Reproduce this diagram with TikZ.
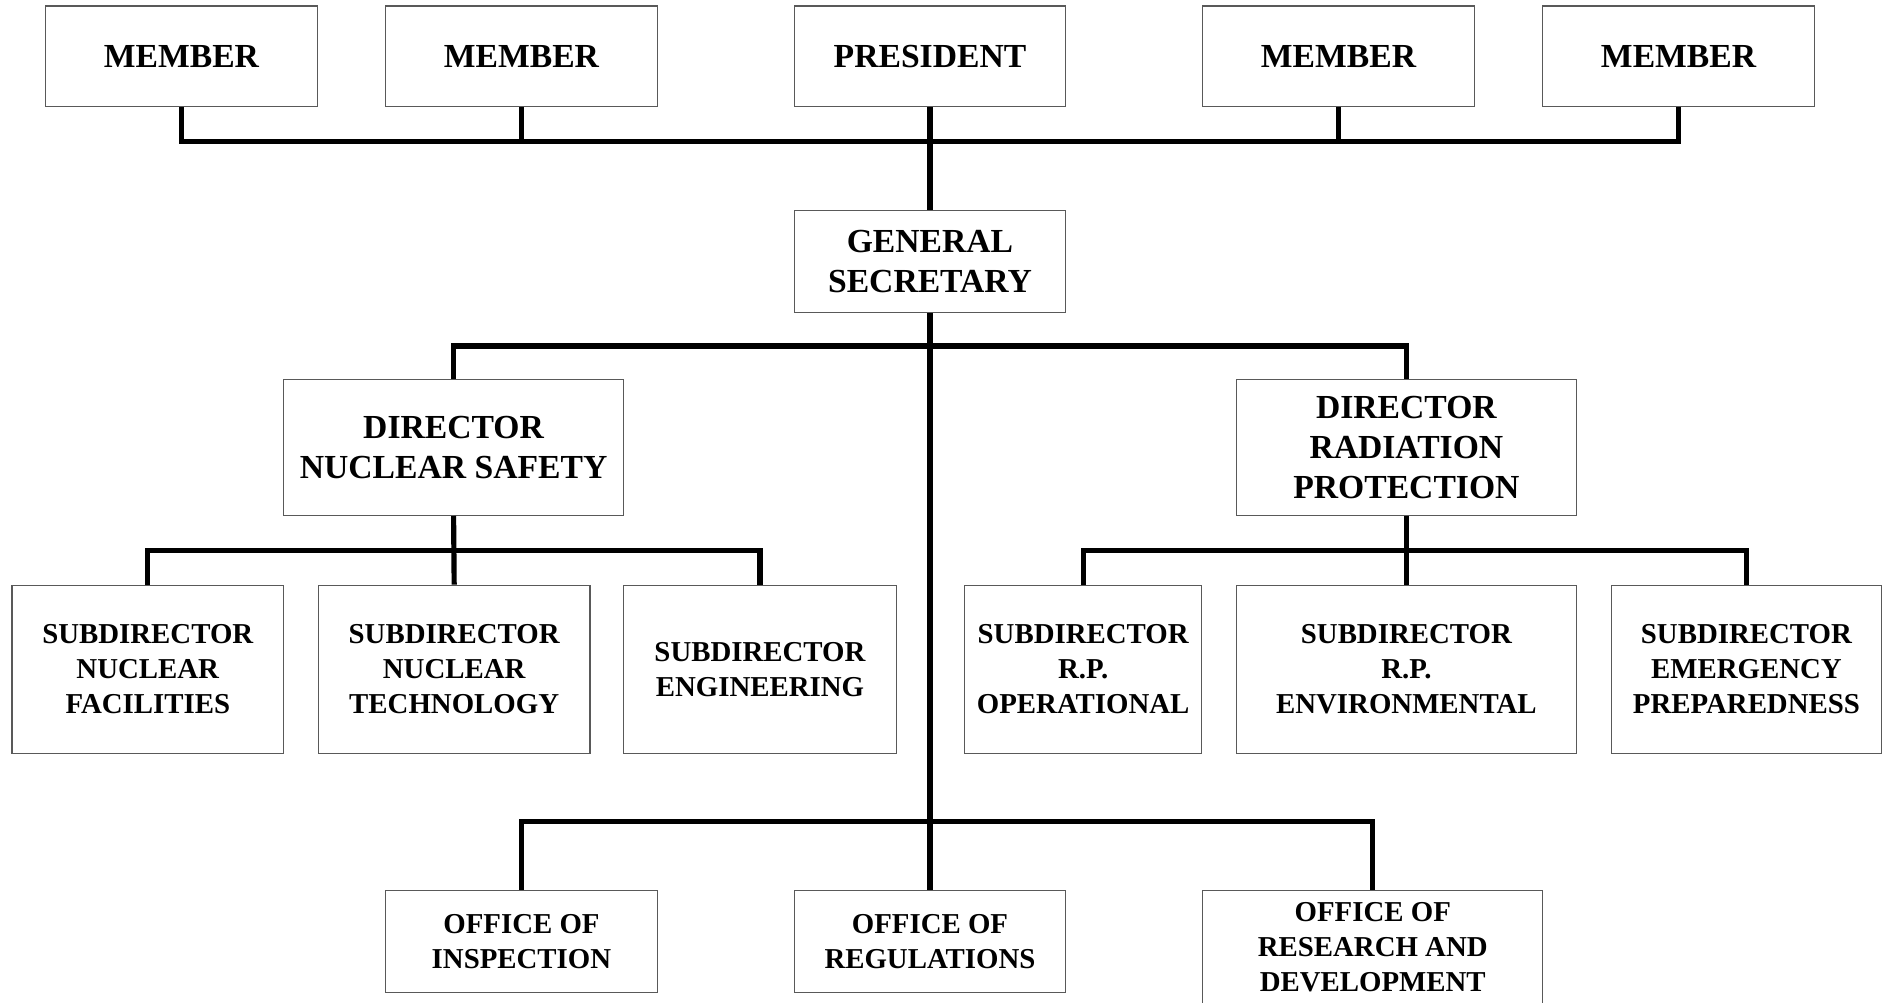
\documentclass[tikz,border=0pt]{standalone}
\usepackage{fontspec}
\setmainfont{Liberation Serif}
\begin{document}
\begin{tikzpicture}[x=1pt,y=-1pt,
  box/.style={draw=black!65, line width=0.9pt, fill=white, inner sep=0pt,
    align=center, font=\bfseries\fontsize{28}{33}\selectfont},
  small/.style={font=\bfseries\fontsize{24}{29}\selectfont},
  link/.style={line width=4.3pt, black}]
\useasboundingbox (0,0) rectangle (1568,834);

% board
\node[box, minimum width=226pt, minimum height=84pt] (m1) at (151,47) {MEMBER};
\node[box, minimum width=226pt, minimum height=84pt] (m2) at (434,47) {MEMBER};
\node[box, minimum width=226pt, minimum height=84pt] (pres) at (774,47) {PRESIDENT};
\node[box, minimum width=226pt, minimum height=84pt] (m3) at (1114,47) {MEMBER};
\node[box, minimum width=226pt, minimum height=84pt] (m4) at (1397,47) {MEMBER};

% general secretary
\node[box, minimum width=226pt, minimum height=85pt] (gs) at (774,217.5) {GENERAL\\SECRETARY};

% directors
\node[box, minimum width=283pt, minimum height=113pt] (dns) at (377.5,372.5) {DIRECTOR\\NUCLEAR SAFETY};
\node[box, minimum width=283pt, minimum height=113pt] (drp) at (1170.5,372.5) {DIRECTOR\\RADIATION\\PROTECTION};

% subdirectors
\node[box, small, minimum width=226pt, minimum height=140pt] (snf) at (123,557) {SUBDIRECTOR\\NUCLEAR\\FACILITIES};
\node[box, small, minimum width=226pt, minimum height=140pt] (snt) at (378,557) {SUBDIRECTOR\\NUCLEAR\\TECHNOLOGY};
\node[box, small, minimum width=227pt, minimum height=140pt] (se) at (632.5,557) {SUBDIRECTOR\\ENGINEERING};
\node[box, small, minimum width=197pt, minimum height=140pt] (srpo) at (901.5,557) {SUBDIRECTOR\\R.P.\\OPERATIONAL};
\node[box, small, minimum width=283pt, minimum height=140pt] (srpe) at (1170.5,557) {SUBDIRECTOR\\R.P.\\ENVIRONMENTAL};
\node[box, small, minimum width=225pt, minimum height=140pt] (sep) at (1453.5,557) {SUBDIRECTOR\\EMERGENCY\\PREPAREDNESS};

% offices
\node[box, small, minimum width=226pt, minimum height=85pt] (oi) at (434,783.5) {OFFICE OF\\INSPECTION};
\node[box, small, minimum width=226pt, minimum height=85pt] (oreg) at (774,783.5) {OFFICE OF\\REGULATIONS};
\node[box, small, minimum width=283pt, minimum height=95pt] (ord) at (1142.5,788.5) {OFFICE OF\\RESEARCH AND\\DEVELOPMENT};

% bus levels
\coordinate (topbus) at (774,118);
\coordinate (dirbus) at (774,288);
\coordinate (nsbus) at (378,458);
\coordinate (rpbus) at (1171,458);
\coordinate (offbus) at (774,684);

% board connectors
\draw[link] (m1.south) -- (m1.south |- topbus) -- (m4.south |- topbus) -- (m4.south);
\draw[link] (m2.south) -- (m2.south |- topbus);
\draw[link] (m3.south) -- (m3.south |- topbus);
\draw[link] (pres.south) -- (gs.north);

% trunk and directors
\draw[link] (gs.south) -- (oreg.north);
\draw[link] (dns.north) -- (dns.north |- dirbus) -- (drp.north |- dirbus) -- (drp.north);

% nuclear safety branch
\draw[link] (snf.north) -- (snf.north |- nsbus) -- (se.north |- nsbus) -- (se.north);
\draw[link] (dns.south) -- (snt.north);

% radiation protection branch
\draw[link] (srpo.north) -- (srpo.north |- rpbus) -- (sep.north |- rpbus) -- (sep.north);
\draw[link] (drp.south) -- (srpe.north);

% offices branch
\draw[link] (oi.north) -- (oi.north |- offbus) -- (ord.north |- offbus) -- (ord.north);
\end{tikzpicture}
\end{document}
